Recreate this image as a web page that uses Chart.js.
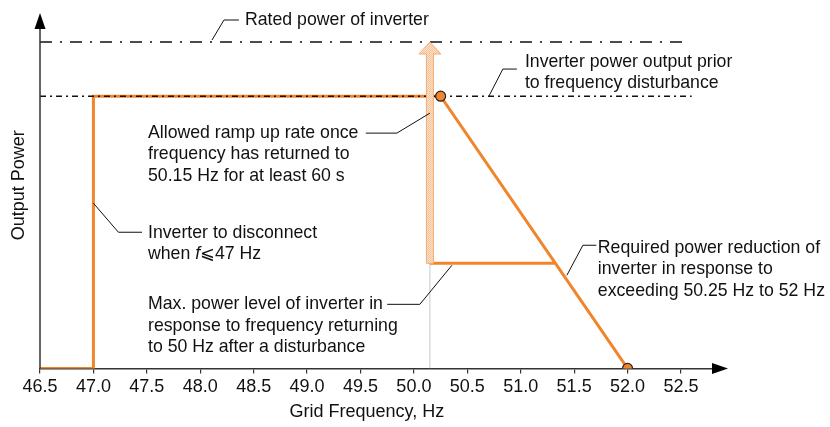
<!DOCTYPE html>
<html>
<head>
<meta charset="utf-8">
<title>Inverter frequency response</title>
<script src="https://cdn.jsdelivr.net/npm/chart.js@4"></script>
<style>
  html, body { margin: 0; padding: 0; background: #fff; }
  canvas { display: block; }
</style>
</head>
<body>
<canvas id="freqChart" width="830" height="427"></canvas>
<script>
// Power levels (fraction of rated power)
const ratedPower = 1.0;
const priorPower = 0.834;
const reducedPower = 0.322;

// Frequency axis
const freqTicks = [46.5, 47.0, 47.5, 48.0, 48.5, 49.0, 49.5, 50.0, 50.5, 51.0, 51.5, 52.0, 52.5];

// Main response curve
const curveFreq = [46.5, 47.0, 47.0, 50.25, 52.0];
const curvePower = [0, 0, priorPower, priorPower, 0];

// Reduced level after disturbance, up to where it meets the droop line
const reducedFreq = [50.15, 51.32];
const reducedLevel = [reducedPower, reducedPower];

// Marker points on the droop line
const markerFreq = [50.25, 52.0];
const markerPower = [priorPower, 0];

// Reference (dash-dot) lines
const ratedFreq = [46.5, 52.56];
const priorFreq = [46.5, 52.6];

// Return frequency for the ramp-up arrow
const returnFreq = 50.15;

const ORANGE = 'rgb(241,133,43)';
const FONT = '"Liberation Sans", Arial, sans-serif';
const FS = 18;      // axis text
const NOTE_FS = 17.7; // callout text

const pts = (xs, ys) => xs.map((x, i) => ({ x: x, y: ys[i] }));

// Callouts: text anchor (freq, power), lines, leader polyline
const callouts = [
  { at: [48.419, 1.0675], lines: ['Rated power of inverter'],
    leader: [[48.110, 1.006], [48.222, 1.0675], [48.362, 1.0675]] },
  { at: [51.039, 0.9387], lines: ['Inverter power output prior', 'to frequency disturbance'],
    leader: [[50.702, 0.834], [50.833, 0.9172], [50.964, 0.9172]] },
  { at: [47.511, 0.7209], lines: ['Allowed ramp up rate once', 'frequency has returned to', '50.15 Hz for at least 60 s'],
    leader: [[49.55, 0.7209], [49.841, 0.7209], [50.15, 0.7822]] },
  { at: [47.511, 0.4141], lines: ['Inverter to disconnect', null],
    leader: [[47.0, 0.5061], [47.234, 0.4172], [47.455, 0.4172]] },
  { at: [47.511, 0.1963], lines: ['Max. power level of inverter in', 'response to frequency returning', 'to 50 Hz after a disturbance'],
    leader: [[49.75, 0.1963], [50.056, 0.1963], [50.356, 0.316]] },
  { at: [51.722, 0.368], lines: ['Required power reduction of', 'inverter in response to', 'exceeding 50.25 Hz to 52 Hz'],
    leader: [[51.432, 0.2853], [51.582, 0.3773], [51.708, 0.3773]] }
];

const xTitle = { at: [49.56, -0.135], text: 'Grid Frequency, Hz' };
const yTitle = { at: [46.3, 0.561], text: 'Output Power' };

// Draws axis arrows, the ramp-up arrow and all text
const overlay = {
  id: 'overlay',
  afterDatasetsDraw(chart) {
    const ctx = chart.ctx;
    const xs = chart.scales.x, ys = chart.scales.y;
    const px = v => xs.getPixelForValue(v);
    const py = v => ys.getPixelForValue(v);
    const area = chart.chartArea;

    ctx.save();

    // ramp-up arrow from reduced level to rated power
    const ax = px(returnFreq);
    const yTop = py(ratedPower), yBot = py(reducedPower);
    const headH = 12, headW = 11, shaftW = 3.5;
    const pc = document.createElement('canvas');
    pc.width = 2; pc.height = 2;
    const pctx = pc.getContext('2d');
    pctx.fillStyle = '#fde3cb'; pctx.fillRect(0, 0, 2, 2);
    pctx.fillStyle = '#f6c295'; pctx.fillRect(0, 0, 1, 1); pctx.fillRect(1, 1, 1, 1);
    ctx.beginPath();
    ctx.moveTo(ax - shaftW, yBot);
    ctx.lineTo(ax - shaftW, yTop + headH);
    ctx.lineTo(ax - headW, yTop + headH);
    ctx.lineTo(ax, yTop);
    ctx.lineTo(ax + headW, yTop + headH);
    ctx.lineTo(ax + shaftW, yTop + headH);
    ctx.lineTo(ax + shaftW, yBot);
    ctx.closePath();
    ctx.fillStyle = ctx.createPattern(pc, 'repeat');
    ctx.fill();
    ctx.strokeStyle = '#f2ad78';
    ctx.lineWidth = 1;
    ctx.stroke();

    // y axis line with arrowhead
    const x0 = px(46.5), y0 = py(0);
    ctx.strokeStyle = '#333';
    ctx.lineWidth = 1.5;
    ctx.beginPath();
    ctx.moveTo(x0, y0);
    ctx.lineTo(x0, area.top);
    ctx.stroke();
    ctx.fillStyle = '#000';
    ctx.beginPath();
    ctx.moveTo(x0, area.top - 15);
    ctx.lineTo(x0 - 5.5, area.top + 1);
    ctx.lineTo(x0 + 5.5, area.top + 1);
    ctx.closePath();
    ctx.fill();

    // x axis arrowhead
    ctx.beginPath();
    ctx.moveTo(area.right + 15, y0);
    ctx.lineTo(area.right - 1, y0 - 5.5);
    ctx.lineTo(area.right - 1, y0 + 5.5);
    ctx.closePath();
    ctx.fill();

    // callouts
    const font = NOTE_FS + 'px ' + FONT;
    ctx.font = font;
    ctx.textBaseline = 'middle';
    ctx.textAlign = 'left';
    callouts.forEach(c => {
      ctx.strokeStyle = '#111';
      ctx.lineWidth = 1;
      ctx.beginPath();
      c.leader.forEach((p, i) => {
        const X = px(p[0]), Y = py(p[1]);
        if (i === 0) ctx.moveTo(X, Y); else ctx.lineTo(X, Y);
      });
      ctx.stroke();
      const tx = px(c.at[0]);
      let ty = py(c.at[1]);
      ctx.fillStyle = '#111';
      c.lines.forEach(line => {
        if (line === null) {
          // "when f⩽47 Hz" with italic f
          let cx = tx;
          ctx.font = font;
          ctx.fillText('when ', cx, ty);
          cx += ctx.measureText('when ').width;
          ctx.font = 'italic ' + font;
          ctx.fillText('f', cx, ty);
          cx += ctx.measureText('f').width;
          ctx.font = NOTE_FS + 'px "DejaVu Sans", ' + FONT;
          ctx.fillText('\u2A7D', cx, ty);
          cx += ctx.measureText('\u2A7D').width;
          ctx.font = font;
          ctx.fillText('47 Hz', cx, ty);
        } else {
          ctx.fillText(line, tx, ty);
        }
        ty += 21.3;
      });
    });

    // axis titles
    ctx.font = FS + 'px ' + FONT;
    ctx.textAlign = 'center';
    ctx.fillText(xTitle.text, px(xTitle.at[0]), py(xTitle.at[1]));
    ctx.translate(px(yTitle.at[0]), py(yTitle.at[1]));
    ctx.rotate(-Math.PI / 2);
    ctx.fillText(yTitle.text, 0, 0);

    ctx.restore();
  }
};

const ctx = document.getElementById('freqChart').getContext('2d');
new Chart(ctx, {
  type: 'scatter',
  data: {
    datasets: [
      {
        // circle markers
        data: pts(markerFreq, markerPower),
        showLine: false,
        pointRadius: 5,
        pointBackgroundColor: ORANGE,
        pointBorderColor: '#222',
        pointBorderWidth: 1.2,
        order: 0
      },
      {
        data: pts(ratedFreq, [ratedPower, ratedPower]),
        showLine: true,
        borderColor: '#111',
        borderWidth: 1.6,
        borderDash: [12, 8, 2, 8],
        pointRadius: 0,
        order: 1
      },
      {
        data: pts(priorFreq, [priorPower, priorPower]),
        showLine: true,
        borderColor: '#111',
        borderWidth: 1.6,
        borderDash: [6, 4, 2, 4],
        pointRadius: 0,
        order: 1
      },
      {
        data: pts(curveFreq, curvePower),
        showLine: true,
        borderColor: ORANGE,
        borderWidth: 3,
        borderJoinStyle: 'miter',
        pointRadius: 0,
        order: 2
      },
      {
        data: pts(reducedFreq, reducedLevel),
        showLine: true,
        borderColor: ORANGE,
        borderWidth: 3,
        pointRadius: 0,
        order: 2
      },
      {
        data: pts([returnFreq, returnFreq], [0, reducedPower]),
        showLine: true,
        borderColor: '#c8c8c8',
        borderWidth: 1,
        pointRadius: 0,
        order: 3
      }
    ]
  },
  options: {
    responsive: false,
    animation: false,
    events: [],
    layout: { padding: { left: 40, right: 117, top: 28, bottom: 26 } },
    plugins: { legend: { display: false }, tooltip: { enabled: false } },
    scales: {
      x: {
        type: 'linear',
        min: 46.5,
        max: 52.8,
        afterBuildTicks: scale => { scale.ticks = freqTicks.map(v => ({ value: v })); },
        ticks: {
          color: '#111',
          font: { family: FONT, size: FS },
          padding: 3,
          maxRotation: 0,
          autoSkip: false,
          callback: v => Number(v).toFixed(1)
        },
        grid: { drawOnChartArea: false, drawTicks: true, tickLength: 5, tickColor: '#333', lineWidth: 1.2 },
        border: { display: true, color: '#333', width: 1.5 }
      },
      y: {
        type: 'linear',
        display: false,
        min: 0,
        max: 1.043
      }
    }
  },
  plugins: [overlay]
});
</script>
</body>
</html>
